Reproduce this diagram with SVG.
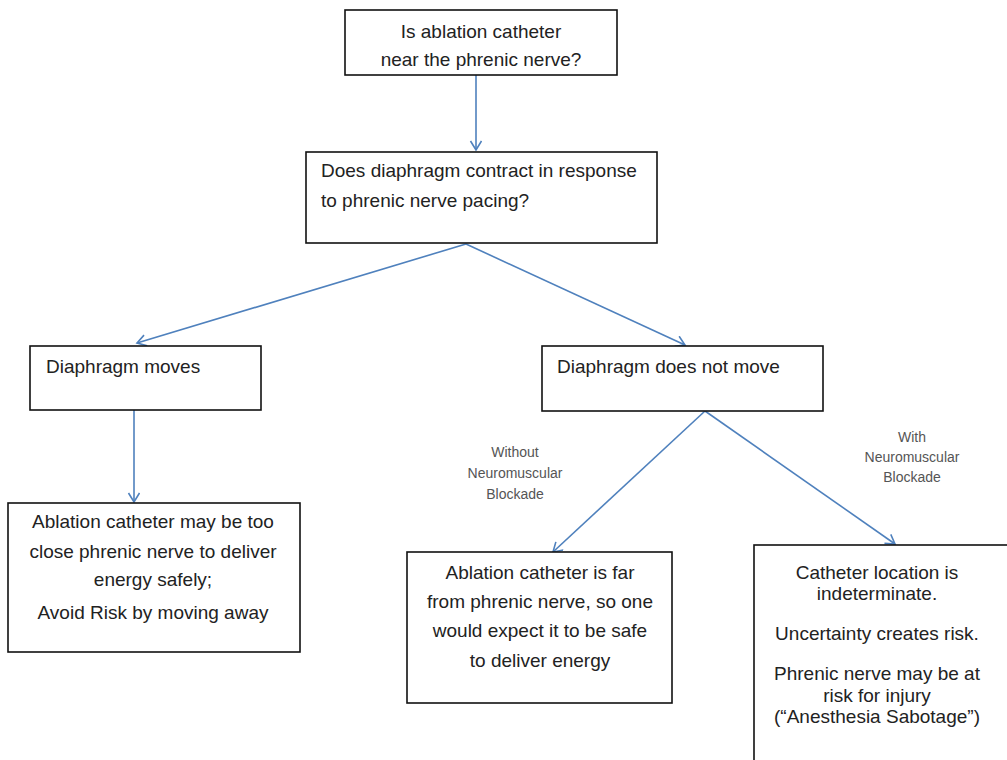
<svg xmlns="http://www.w3.org/2000/svg" width="1007" height="760" viewBox="0 0 1007 760">
<style>
.box{fill:#fff;stroke:#111;stroke-width:1.6}
.t{font-family:"Liberation Sans",Arial,sans-serif;font-size:19px;fill:#222}
.c{text-anchor:middle}
.lbl{font-family:"Liberation Sans",Arial,sans-serif;font-size:14px;fill:#555;text-anchor:middle}
.conn{stroke:#4f81bd;stroke-width:1.6;fill:none}
</style>
<defs>
<marker id="ah" markerWidth="14" markerHeight="14" refX="10" refY="6" orient="auto" markerUnits="userSpaceOnUse">
<polyline points="1,0.5 10,6 1,11.5" fill="none" stroke="#4f81bd" stroke-width="1.6"/>
</marker>
</defs>
<rect width="1007" height="760" fill="#fff"/>
<g id="connectors">
<line class="conn" x1="476" y1="75" x2="476" y2="150" marker-end="url(#ah)"/>
<line class="conn" x1="466" y1="244" x2="137" y2="343" marker-end="url(#ah)"/>
<line class="conn" x1="466" y1="244" x2="685" y2="345" marker-end="url(#ah)"/>
<line class="conn" x1="134" y1="410" x2="134" y2="502" marker-end="url(#ah)"/>
<line class="conn" x1="705" y1="411" x2="553" y2="552" marker-end="url(#ah)"/>
<line class="conn" x1="705" y1="411" x2="895" y2="544" marker-end="url(#ah)"/>
</g>
<g id="n1">
<rect class="box" x="345" y="10" width="272" height="65"/>
<text class="t c" x="481" y="38">Is ablation catheter</text>
<text class="t c" x="481" y="66">near the phrenic nerve?</text>
</g>
<g id="n2">
<rect class="box" x="306" y="152" width="351" height="91"/>
<text class="t" x="321" y="177">Does diaphragm contract in response</text>
<text class="t" x="321" y="207">to phrenic nerve pacing?</text>
</g>
<g id="n3">
<rect class="box" x="30" y="346" width="231" height="64"/>
<text class="t" x="46" y="373">Diaphragm moves</text>
</g>
<g id="n4">
<rect class="box" x="542" y="346" width="281" height="65"/>
<text class="t" x="557" y="373">Diaphragm does not move</text>
</g>
<g id="n5">
<rect class="box" x="8" y="503" width="292" height="149"/>
<text class="t c" x="153" y="528">Ablation catheter may be too</text>
<text class="t c" x="153" y="558">close phrenic nerve to deliver</text>
<text class="t c" x="153" y="586">energy safely;</text>
<text class="t c" x="153" y="619">Avoid Risk by moving away</text>
</g>
<g id="n6">
<rect class="box" x="407" y="552" width="265" height="151"/>
<text class="t c" x="540" y="579">Ablation catheter is far</text>
<text class="t c" x="540" y="608">from phrenic nerve, so one</text>
<text class="t c" x="540" y="637">would expect it to be safe</text>
<text class="t c" x="540" y="667">to deliver energy</text>
</g>
<g id="n7">
<rect class="box" x="754" y="545" width="260" height="230"/>
<text class="t c" x="877" y="579">Catheter location is</text>
<text class="t c" x="877" y="600">indeterminate.</text>
<text class="t c" x="877" y="640">Uncertainty creates risk.</text>
<text class="t c" x="877" y="680">Phrenic nerve may be at</text>
<text class="t c" x="877" y="702">risk for injury</text>
<text class="t c" x="877" y="723">(“Anesthesia Sabotage”)</text>
</g>
<g id="label-without">
<text class="lbl" x="515" y="457">Without</text>
<text class="lbl" x="515" y="478">Neuromuscular</text>
<text class="lbl" x="515" y="499">Blockade</text>
</g>
<g id="label-with">
<text class="lbl" x="912" y="442">With</text>
<text class="lbl" x="912" y="462">Neuromuscular</text>
<text class="lbl" x="912" y="482">Blockade</text>
</g>
</svg>
